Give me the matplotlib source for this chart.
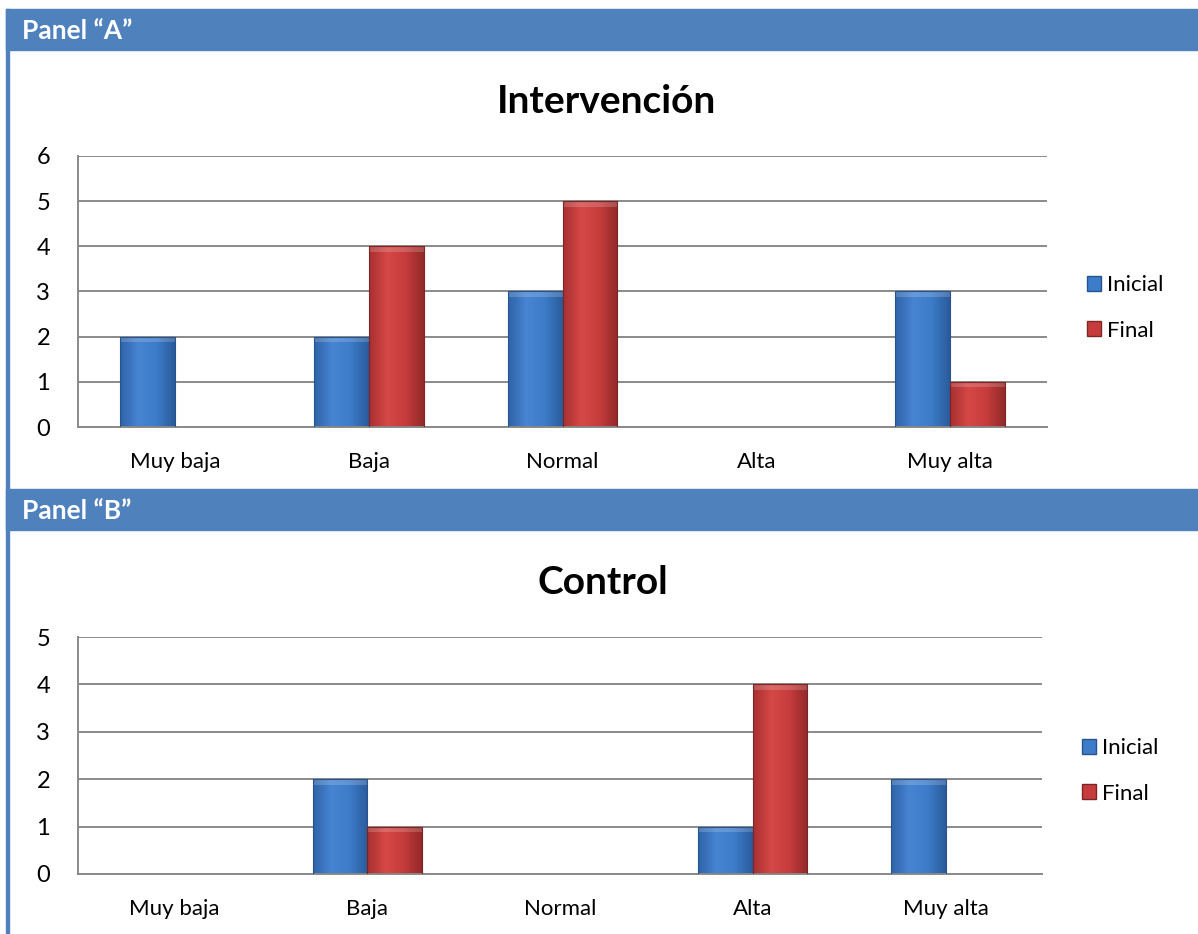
import numpy as np
import matplotlib.pyplot as plt
from matplotlib.patches import Rectangle, Patch
from matplotlib.colors import LinearSegmentedColormap

plt.rcParams['font.family'] = ['Lato', 'DejaVu Sans']

# datos
categorias = ['Muy baja', 'Baja', 'Normal', 'Alta', 'Muy alta']
interv_inicial = [2, 2, 3, 0, 3]
interv_final = [0, 4, 5, 0, 1]
control_inicial = [0, 2, 0, 1, 2]
control_final = [0, 1, 0, 4, 0]

W, H = 1198, 934
fig = plt.figure(figsize=(W / 100, H / 100), dpi=100)
azul_panel = '#4f81bd'


def px_axes(x0, y0, x1, y1):
    return fig.add_axes([x0 / W, 1 - y1 / H, (x1 - x0) / W, (y1 - y0) / H])


# barras laterales y cabeceras
fig.patches.append(Rectangle((6 / W, 0), 3 / W, 1 - 9 / H, transform=fig.transFigure,
                             color=azul_panel, zorder=0))
for y0, txt in [(9, 'Panel “A”'), (489, 'Panel “B”')]:
    fig.patches.append(Rectangle((6 / W, 1 - (y0 + 41) / H), 1 - 6 / W, 41 / H,
                                 transform=fig.transFigure, color=azul_panel, zorder=0))
    fig.text(22 / W, 1 - (y0 + 22) / H, txt, color='white', fontsize=19,
             fontweight='bold', va='center', ha='left')

cm_azul = LinearSegmentedColormap.from_list('az', ['#2f64a8', '#4784d2', '#3d7cc9', '#2a5c9c'])
cm_rojo = LinearSegmentedColormap.from_list('ro', ['#a83030', '#d54846', '#c63c3c', '#932a2a'])
grad = np.linspace(0, 1, 64).reshape(1, -1)


def barras(ax, xs, vals, cmap, borde):
    w = 0.283
    for x, v in zip(xs, vals):
        if v == 0:
            continue
        r = ax.bar(x, v, width=w, color='none', edgecolor=borde, lw=0.8, zorder=3)[0]
        im = ax.imshow(grad, extent=(x - w / 2, x + w / 2, 0, v), cmap=cmap,
                       aspect='auto', zorder=2)
        im.set_clip_path(r)
        # bisel superior
        ax.fill_between([x - w / 2, x + w / 2], v - 0.12, v, color='white',
                        alpha=0.18, lw=0, zorder=2.5)


def panel(ax, titulo, ini, fin, ymax, xtitle, yleg):
    x = np.arange(len(categorias))
    w = 0.283
    barras(ax, x - w / 2, ini, cm_azul, '#27548e')
    barras(ax, x + w / 2, fin, cm_rojo, '#7f2424')
    ax.set_xlim(-0.5, len(categorias) - 0.5)
    ax.set_ylim(0, ymax)
    ax.set_yticks(range(ymax + 1))
    ax.set_xticks(x)
    ax.set_xticklabels(categorias, fontsize=16)
    ax.tick_params(axis='y', labelsize=17, length=0, pad=20)
    ax.tick_params(axis='x', length=0, pad=18)
    ax.grid(axis='y', color='#8a8a8a', lw=1.4, zorder=1)
    ax.set_axisbelow(True)
    for s in ['top', 'right']:
        ax.spines[s].set_visible(False)
    for s in ['left', 'bottom']:
        ax.spines[s].set_color('#8a8a8a')
        ax.spines[s].set_linewidth(1.4)
    handles = [Patch(facecolor='#3d7cc9', edgecolor='#27548e', label='Inicial'),
               Patch(facecolor='#c63c3c', edgecolor='#7f2424', label='Final')]
    ax.legend(handles=handles, loc='center left', bbox_to_anchor=(1.032, yleg),
              frameon=False, fontsize=16, handlelength=0.65, handleheight=0.65,
              handletextpad=0.25, labelspacing=1.15, borderaxespad=0)
    fig.text(xtitle / W, ax.get_position().y1 + 0.058, titulo, fontsize=28,
             fontweight='bold', ha='center', va='center')


axA = px_axes(78, 156, 1047, 427)
panel(axA, 'Intervención', interv_inicial, interv_final, 6, 607, 0.44)
axB = px_axes(78, 637, 1042, 874)
panel(axB, 'Control', control_inicial, control_final, 5, 603, 0.435)

fig.savefig('out.png', dpi=100)
